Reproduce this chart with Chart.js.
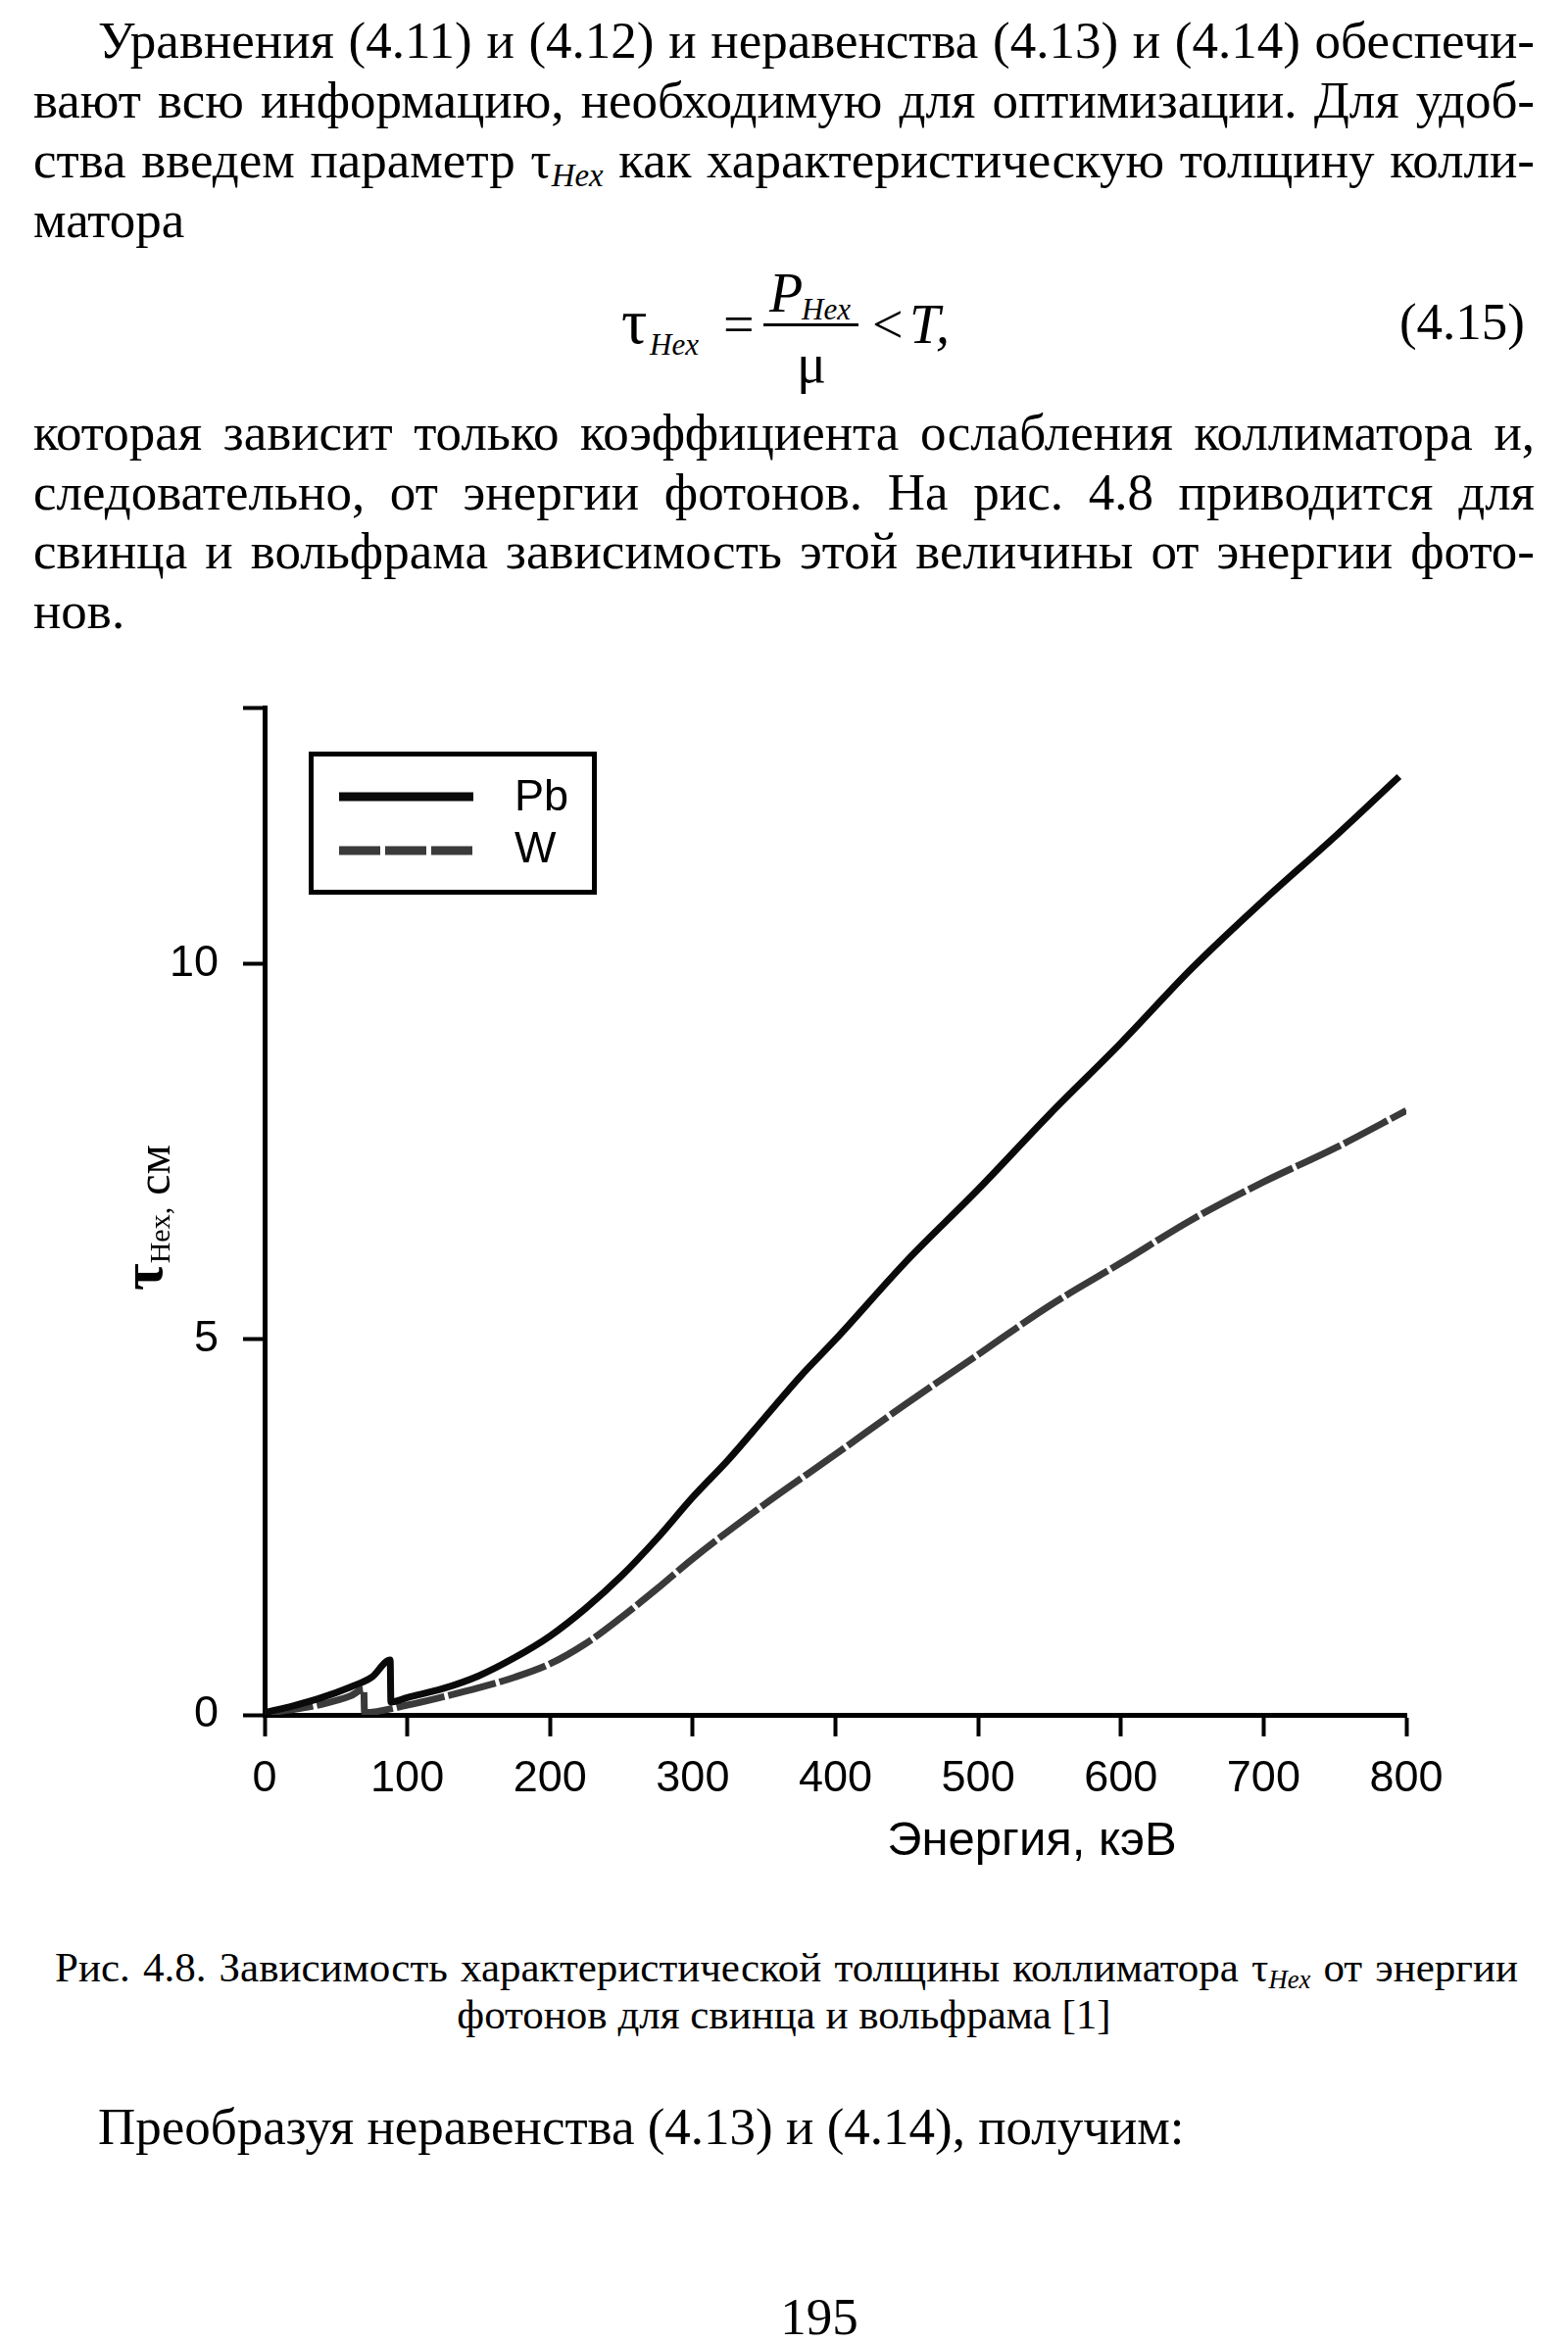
<!DOCTYPE html>
<html lang="ru">
<head>
<meta charset="utf-8">
<title>Рис. 4.8</title>
<script src="https://cdn.jsdelivr.net/npm/chart.js@4.4.1/dist/chart.umd.min.js"></script>
<style>
  html, body { margin: 0; padding: 0; background: #fff; }
  body { width: 1600px; height: 2390px; position: relative; overflow: hidden;
         font-family: "Liberation Serif", "Times New Roman", serif; color: #000; }
  .t { position: absolute; white-space: nowrap; line-height: 1; }
  .body { font-size: 53px; }
  .cap { font-size: 43px; }
  .m { font-size: 56px; }
  .it { font-style: italic; }
  .sub { font-size: 0.62em; font-style: italic; position: relative; top: 0.28em; }
  .bar { position: absolute; left: 779px; top: 330px; width: 97px; height: 3px; background: #000; }
  #ytitle { position: absolute; white-space: nowrap; line-height: 1; font-size: 48px;
            transform-origin: 0 0; transform: rotate(-90deg); }
  #ytitle .tau { font-size: 60px; font-weight: bold; position: relative; top: -8px; }
  #ytitle .hex { font-size: 30px; }
  #xtitle { font-family: "Liberation Sans", Arial, sans-serif; font-size: 49px; }
  #chartBox { position: absolute; left: 0; top: 690px; width: 1600px; height: 1260px; }
</style>
</head>
<body>

<div class="t body" data-x="100" data-base="59" data-w="1466">Уравнения (4.11) и (4.12) и неравенства (4.13) и (4.14) обеспечи-</div>
<div class="t body" data-x="34" data-base="120" data-w="1532">вают всю информацию, необходимую для оптимизации. Для удоб-</div>
<div class="t body" data-x="34" data-base="181" data-w="1532">ства введем параметр τ<span class="sub">Hex</span> как характеристическую толщину колли-</div>
<div class="t body" data-x="34" data-base="242">матора</div>

<span class="t" style="font-size:66px" data-x="634" data-base="350">τ</span>
<span class="t it" style="font-size:31px" data-x="663" data-base="362">Hex</span>
<span class="t m" data-x="738" data-base="350">=</span>
<span class="t m it" data-x="785" data-base="318">P</span>
<span class="t it" style="font-size:31px" data-x="818" data-base="326">Hex</span>
<div class="bar"></div>
<span class="t m" data-x="813" data-base="390">μ</span>
<span class="t m" data-x="890" data-base="350">&lt;</span>
<span class="t m it" data-x="928" data-base="350">T,</span>
<span class="t body" data-rx="1556" data-base="346">(4.15)</span>

<div class="t body" data-x="34" data-base="459" data-w="1532">которая зависит только коэффициента ослабления коллиматора и,</div>
<div class="t body" data-x="34" data-base="520" data-w="1532">следовательно, от энергии фотонов. На рис. 4.8 приводится для</div>
<div class="t body" data-x="34" data-base="580" data-w="1532">свинца и вольфрама зависимость этой величины от энергии фото-</div>
<div class="t body" data-x="34" data-base="641">нов.</div>

<div id="chartBox"><canvas id="chart_tau" width="1600" height="1260"></canvas></div>
<div id="ytitle"><span class="tau">τ</span><span class="hex">Hex,</span> см</div>
<div class="t" id="xtitle" data-cx="1053" data-base="1893">Энергия, кэВ</div>

<div class="t cap" data-x="56" data-base="2022" data-w="1493">Рис. 4.8. Зависимость характеристической толщины коллиматора τ<span class="sub">Hex</span> от энергии</div>
<div class="t cap" data-cx="800" data-base="2070">фотонов для свинца и вольфрама [1]</div>

<div class="t body" data-x="100" data-base="2188">Преобразуя неравенства (4.13) и (4.14), получим:</div>
<div class="t body" data-cx="836" data-base="2382">195</div>

<script>
// values: tau_Hex (cm) vs photon energy (keV)
const pbEnergy = [0, 20, 40, 60, 75, 88, 88.5, 100, 125, 150, 175, 200, 225, 250, 275, 300, 325, 350, 375, 400, 450, 500, 550, 600, 650, 700, 750, 795];
const pbTau = [0.03, 0.12, 0.23, 0.37, 0.5, 0.73, 0.17, 0.23, 0.35, 0.52, 0.76, 1.05, 1.42, 1.85, 2.35, 2.9, 3.4, 3.95, 4.5, 5.0, 6.05, 7.0, 8.0, 8.95, 9.95, 10.85, 11.7, 12.5];
const wEnergy = [0, 20, 40, 60, 69.5, 70, 100, 125, 150, 175, 200, 225, 250, 275, 300, 350, 400, 450, 500, 550, 600, 650, 700, 750, 800];
const wTau = [0.02, 0.07, 0.14, 0.25, 0.34, 0.03, 0.13, 0.24, 0.36, 0.5, 0.68, 0.95, 1.3, 1.68, 2.08, 2.8, 3.47, 4.15, 4.8, 5.45, 6.02, 6.6, 7.1, 7.55, 8.05];

const energyTicks = [0, 100, 200, 300, 400, 500, 600, 700, 800];
const tauMax = 13.42;
const tauTicks = [0, 5, 10, tauMax];

const toPoints = (xs, ys) => xs.map((x, i) => ({ x: x, y: ys[i] }));

// place text lines by baseline, stretch justified lines
function layoutText() {
  document.querySelectorAll('[data-base]').forEach(el => {
    const fs = parseFloat(getComputedStyle(el).fontSize);
    el.style.top = (+el.dataset.base - 0.8375 * fs) + 'px';
    const w = el.getBoundingClientRect().width;
    if (el.dataset.w) {
      const target = +el.dataset.w;
      const spaces = (el.textContent.match(/ /g) || []).length;
      if (w < target && spaces) {
        el.style.wordSpacing = ((target - w) / spaces) + 'px';
      } else if (w > target) {
        el.style.transformOrigin = '0 0';
        el.style.transform = 'scaleX(' + (target / w) + ')';
      }
    }
    const realW = Math.min(w, el.dataset.w ? +el.dataset.w : w);
    if (el.dataset.x) el.style.left = el.dataset.x + 'px';
    if (el.dataset.rx) el.style.left = (+el.dataset.rx - w) + 'px';
    if (el.dataset.cx) el.style.left = (+el.dataset.cx - realW / 2) + 'px';
  });
  const yt = document.getElementById('ytitle');
  yt.style.left = (163 - 0.8375 * 48) + 'px';
  yt.style.top = '1317px';
}
layoutText();

const boxLegend = {
  id: 'boxLegend',
  afterDraw(chart) {
    const ctx = chart.ctx;
    const a = chart.chartArea;
    const x0 = a.left + 45, y0 = a.top + 45, w = 294, h = 146;
    ctx.save();
    ctx.strokeStyle = '#000';
    ctx.lineWidth = 5;
    ctx.strokeRect(x0 + 2.5, y0 + 2.5, w - 5, h - 5);
    const rows = [a.top + 91, a.top + 146];
    const bases = [a.top + 105, a.top + 158];
    chart.data.datasets.forEach((ds, i) => {
      ctx.beginPath();
      ctx.lineWidth = 9;
      ctx.strokeStyle = ds.borderColor;
      ctx.setLineDash(ds.borderDash ? [42, 5] : []);
      ctx.moveTo(a.left + 76, rows[i]);
      ctx.lineTo(a.left + 213, rows[i]);
      ctx.stroke();
      ctx.setLineDash([]);
      ctx.fillStyle = '#000';
      ctx.font = '45px "Liberation Sans", Arial, sans-serif';
      ctx.textBaseline = 'alphabetic';
      ctx.fillText(ds.label, a.left + 255, bases[i]);
    });
    ctx.restore();
  }
};

const tickFont = { family: '"Liberation Sans", Arial, sans-serif', size: 45 };

new Chart(document.getElementById('chart_tau'), {
  type: 'line',
  data: {
    datasets: [
      {
        label: 'Pb',
        data: toPoints(pbEnergy, pbTau),
        borderColor: '#0a0a0a',
        borderWidth: 7,
        cubicInterpolationMode: 'monotone'
      },
      {
        label: 'W',
        data: toPoints(wEnergy, wTau),
        borderColor: '#3a3a3a',
        borderWidth: 7,
        borderDash: [50, 4],
        cubicInterpolationMode: 'monotone'
      }
    ]
  },
  options: {
    responsive: false,
    animation: false,
    devicePixelRatio: 1,
    parsing: false,
    layout: { padding: { top: 32, right: 165, left: 0, bottom: 0 } },
    elements: { point: { radius: 0 } },
    plugins: { legend: { display: false }, tooltip: { enabled: false } },
    scales: {
      x: {
        type: 'linear',
        min: 0,
        max: 800,
        afterBuildTicks: s => { s.ticks = energyTicks.map(v => ({ value: v })); },
        afterFit: s => { s.height = 200; s.paddingLeft = 0; s.paddingRight = 0; },
        grid: { drawOnChartArea: false, tickLength: 22, tickWidth: 4, tickColor: '#000' },
        border: { color: '#000', width: 5 },
        ticks: { color: '#000', font: tickFont, padding: 17, maxRotation: 0, autoSkip: false }
      },
      y: {
        type: 'linear',
        min: 0,
        max: tauMax,
        afterBuildTicks: s => { s.ticks = tauTicks.map(v => ({ value: v })); },
        afterFit: s => { s.width = 270; s.paddingTop = 0; s.paddingBottom = 0; },
        grid: { drawOnChartArea: false, tickLength: 22, tickWidth: 4, tickColor: '#000' },
        border: { color: '#000', width: 5 },
        ticks: {
          color: '#000', font: tickFont, padding: 25, autoSkip: false,
          callback: v => (v === tauMax ? '' : String(v))
        }
      }
    }
  },
  plugins: [boxLegend]
});
</script>
</body>
</html>
